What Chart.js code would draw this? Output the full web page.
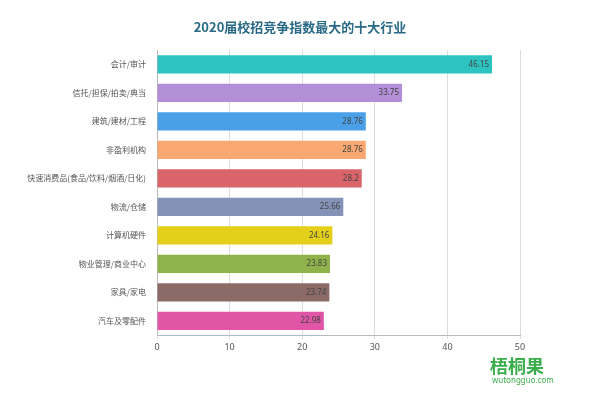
<!DOCTYPE html>
<html><head><meta charset="utf-8">
<script src="https://cdn.jsdelivr.net/npm/chart.js@4"></script>
<style>body{margin:0;background:#fff}#w{position:relative;width:600px;height:400px}
#t{position:absolute;top:17px;left:0;width:600px;text-align:center;font:bold 13px "Noto Sans CJK SC";color:#2b6a86}
#m{position:absolute;left:490px;top:352px;font:bold 18px "Noto Sans CJK SC";color:#3aae4a}
#m2{position:absolute;left:492px;top:374px;font:8px "Noto Sans";color:#3aae4a}</style>
</head><body><div id="w"><canvas id="c" width="600" height="400"></canvas>
<div id="t">2020届校招竞争指数最大的十大行业</div><div id="m">梧桐果</div><div id="m2">wutongguo.com</div></div>
<script>
const categories=["会计/审计","信托/担保/拍卖/典当","建筑/建材/工程","非盈利机构","快速消费品(食品/饮料/烟酒/日化)","物流/仓储","计算机硬件","物业管理/商业中心","家具/家电","汽车及零配件"];
const values=[46.15,33.75,28.76,28.76,28.2,25.66,24.16,23.83,23.74,22.98];
const colors=["#2cc3c0","#b28fd6","#4aa0e8","#f9a872","#d9656a","#8592b8","#e4d01a","#8fb34a","#8c6a68","#e055a6"];
const xTicks=[0,10,20,30,40,50];
new Chart(document.getElementById('c'),{type:'bar',
data:{labels:categories,datasets:[{data:values,backgroundColor:colors,categoryPercentage:0.64,barPercentage:1}]},
options:{indexAxis:'y',responsive:false,animation:false,
layout:{padding:{top:50,right:80,bottom:44,left:10}},
plugins:{legend:{display:false},tooltip:{enabled:false}},
scales:{x:{min:0,max:50,afterBuildTicks:a=>{a.ticks=xTicks.map(v=>({value:v}))},
grid:{color:'#dddddd',drawTicks:true,tickLength:4},border:{color:'#bbb'},
ticks:{color:'#555',font:{size:9,family:'Noto Sans'}}},
y:{afterFit:s=>{s.width=147},grid:{display:false},border:{color:'#bbb'},ticks:{color:'#555',font:{size:8,family:'Noto Sans CJK SC'}}}}},
plugins:[{id:'lbl',afterDatasetsDraw(ch){const x=ch.ctx,m=ch.getDatasetMeta(0);x.save();x.font='8px "Noto Sans"';x.fillStyle='#444';x.textAlign='right';x.textBaseline='middle';
m.data.forEach((b,i)=>x.fillText(values[i],b.x-3,b.y));x.restore();}}]
});
</script></body></html>
